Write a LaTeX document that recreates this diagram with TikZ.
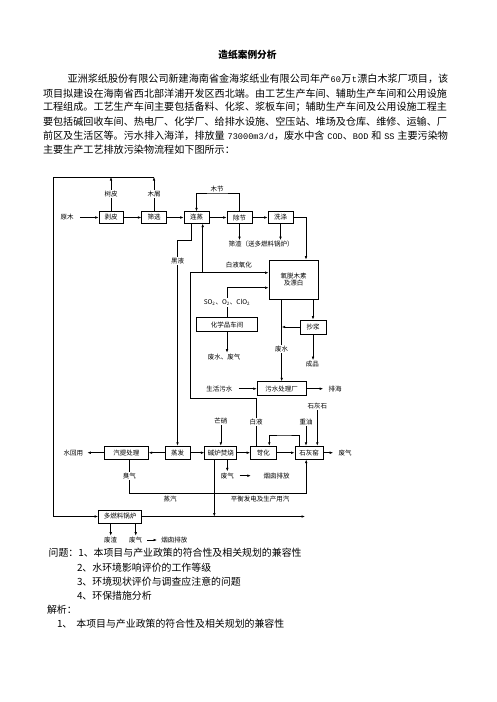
\documentclass[tikz,border=0pt]{standalone}
\usepackage{fontspec}
\setmainfont{Noto Sans CJK SC}
\newfontfamily\monolat[Scale=0.85]{Liberation Mono}
\usetikzlibrary{positioning,arrows.meta,calc}

\begin{document}
\begin{tikzpicture}[x=1pt,y=-1pt,>={Latex[length=3.5pt,width=2.6pt]},
  font=\fontsize{6.5}{7.5}\selectfont,line width=0.6pt,
  pbox/.style={draw,line width=0.8pt,minimum width=#1,minimum height=13,inner sep=1pt},
  lbl/.style={inner sep=1pt},
  onl/.style={fill=white,inner sep=1pt},
  para/.style={anchor=west,inner sep=0pt,font=\fontsize{10.1}{12}\selectfont},
  ask/.style={anchor=west,inner sep=0pt,font=\fontsize{9.9}{12}\selectfont}]
  \useasboundingbox (0,0) rectangle (496,702);

  \node[font=\bfseries\fontsize{9.7}{11}\selectfont] (title) at (247.5,55) {造纸案例分析};
  \node[para] (p1) at (67.3,79) {\makebox[380.7pt][s]{亚洲浆纸股份有限公司新建海南省金海浆纸业有限公司年产\hfil{\monolat 60}\hfil 万\hfil{\monolat t}\hfil 漂白木浆厂项目，该}};
  \node[para] (p2) at (42.7,93.2) {项目拟建设在海南省西北部洋浦开发区西北端。由工艺生产车间、辅助生产车间和公用设施};
  \node[para] (p3) at (42.7,107.4) {工程组成。工艺生产车间主要包括备料、化浆、浆板车间；辅助生产车间及公用设施工程主};
  \node[para] (p4) at (42.7,121.6) {要包括碱回收车间、热电厂、化学厂、给排水设施、空压站、堆场及仓库、维修、运输、厂};
  \node[para] (p5) at (42.7,135.8) {\makebox[405pt][s]{前区及生活区等。污水排入海洋，排放量\hfil{\monolat 73000m3/d}，废水中含\hfil{\monolat COD}、{\monolat BOD}\hfil 和\hfil{\monolat SS}\hfil 主要污染物}};
  \node[para] (p6) at (42.7,150) {主要生产工艺排放污染物流程如下图所示：};

  \node[lbl] (yuanmu) at (67,217.5) {原木};
  \node[pbox=24,minimum height=11.5] (bopi) at (111,217.5) {剥皮};
  \node[pbox=24.5,minimum height=11.5] (shaixuan) at (154,217.5) {筛选};
  \node[pbox=25,minimum height=11.5] (lianzheng) at (196.5,217.5) {连蒸};
  \node[pbox=25,minimum height=11.5] (chujie) at (239.5,217.5) {除节};
  \node[pbox=25,minimum height=11.5] (xidi) at (280.5,217.5) {洗涤};
  \node[lbl] (shaizha) at (261,244.5) {筛渣（送多燃料锅炉）};
  \node[pbox=49,minimum height=39,align=center] (yangtuo) at (293.5,279.5) {氧脱木素\\及漂白};
  \node[pbox=61,minimum height=14] (huaxue) at (227,324.7) {化学品车间};
  \node[lbl] (feishui) at (224,357) {废水、废气};
  \node[pbox=26,minimum height=14] (chaojiang) at (313,327) {抄浆};
  \node[lbl] (chengpin) at (312.3,364.5) {成品};
  \node[pbox=49,minimum height=14] (wushui) at (281.7,388.7) {污水处理厂};
  \node[lbl] (shenghuo) at (219.3,388.7) {生活污水};
  \node[lbl] (paihai) at (335,388.7) {排海};

  \node[lbl] (huiyong) at (73.3,452.7) {水回用};
  \node[pbox=44] (qiti) at (126.3,452.7) {汽提处理};
  \node[pbox=25] (zhengfa) at (177.5,452.7) {蒸发};
  \node[pbox=32] (jianlu) at (220.8,452.7) {碱炉焚烧};
  \node[pbox=25.5] (kehua) at (263.3,452.7) {苛化};
  \node[pbox=28.5] (shihuiyao) at (309.2,452.7) {石灰窑};
  \node[lbl] (feiqiY) at (345,452.7) {废气};
  \node[lbl] (mangxiao) at (220.8,420.7) {芒硝};
  \node[lbl] (zhongyou) at (306,421.7) {重油};
  \node[lbl] (shihuishi) at (317.3,405.7) {石灰石};
  \node[lbl] (feiqiJ) at (227.3,475.7) {废气};
  \node[lbl] (yancongJ) at (276.7,475.7) {烟囱排放};
  \node[lbl] (zhengqi) at (170,499.5) {蒸汽};
  \node[lbl] (pingheng) at (260,499.5) {平衡发电及生产用汽};
  \node[pbox=43] (boiler) at (120,516.5) {多燃料锅炉};
  \node[lbl] (feizha) at (110.7,540) {废渣};
  \node[lbl] (feiqiB) at (135.7,540) {废气};
  \node[lbl] (yancongB) at (174.3,540) {烟囱排放};

  \coordinate (topL) at (53,177);
  \coordinate (mujie) at (217,193);
  \coordinate (byA) at (256,398);
  \coordinate (byB) at (190.7,398);
  \coordinate (byC) at (190.7,272.7);
  \coordinate (byD) at (202.7,272.7);
  \coordinate (hyA) at (191.7,240);
  \coordinate (loopT) at (284,435);
  \coordinate (cqA) at (129.3,493.3);
  \coordinate (jlB) at ($(jianlu.south)+(-6.5,0)$);
  \coordinate (steamEnd) at (305,516.5);

  \draw[->,shorten <=5pt] (yuanmu) -- (bopi);
  \draw[->] (bopi) -- (shaixuan);
  \draw[->] (shaixuan) -- (lianzheng);
  \draw[->] (lianzheng) -- (chujie);
  \draw[->] (chujie) -- (xidi);
  \draw[->] (bopi) -- node[onl] (lShupi) {树皮} (bopi |- topL);
  \draw[->] (shaixuan) -- node[onl] (lMuxie) {木屑} (shaixuan |- topL);
  \draw[->] (shaixuan |- topL) -- (topL) |- (boiler);
  \draw[->] (chujie) |- (mujie) -| (lianzheng);
  \node[lbl,above] (lMujie) at (mujie) {木节};
  \draw[->] (chujie) -- (chujie |- shaizha.north);
  \draw[->] (xidi) -- (xidi |- shaizha.north);
  \draw[->] (xidi) -| ($(yangtuo.north)+(12.5,0)$);
  \draw[->] (kehua.north -| byA) -- node[onl] (lBaiye) {白液} (byA) -- (byB) -- (byC)
    -- node[above=1.5pt,pos=0.62] (lBaiyeYh) {白液氧化} (byC -| yangtuo.west);
  \draw[->] (byD) -- (byD |- lianzheng.south);
  \draw[->] ($(lianzheng.south)+(-4.8,0)$) -- (hyA) -| node[onl,pos=0.55] (lHeiye) {黑液} (zhengfa);
  \draw[->] (huaxue) |- node[onl,pos=0.25] (lSo) {SO\textsubscript{2}、O\textsubscript{2}、ClO\textsubscript{2}} ($(yangtuo.west)+(0,8.2)$);
  \draw[->] (huaxue) -- (huaxue |- feishui.north);
  \draw[->] (yangtuo.south -| wushui) -- node[onl,pos=0.6] (lFeishui) {废水} (wushui);
  \draw[->] (yangtuo.south -| chaojiang) -- (chaojiang);
  \draw[->] (chaojiang) -- (chaojiang -| wushui);
  \draw[->] (chaojiang) -- (chaojiang |- chengpin.north);
  \draw[->,shorten <=5pt] (shenghuo) -- (wushui);
  \draw[->,shorten >=4pt] (wushui) -- (paihai);

  \draw[->,shorten >=3pt] (qiti) -- (huiyong);
  \draw[->] (zhengfa) -- (qiti);
  \draw[->] (zhengfa) -- (jianlu);
  \draw[->] (jianlu) -- (kehua);
  \draw[->] (kehua) -- (shihuiyao);
  \draw[->,shorten >=4pt] (shihuiyao) -- (feiqiY);
  \draw[->] (mangxiao) -- (jianlu);
  \draw[->] (zhongyou) -- (zhongyou |- shihuiyao.north);
  \draw[->] (shihuishi) -- (shihuishi |- shihuiyao.north);
  \draw[->] ($(shihuiyao.north)+(-9.9,0)$) |- (loopT) -| ($(kehua.north)+(6,0)$);
  \draw[->] (feiqiJ |- jianlu.south) -- (feiqiJ);
  \draw[->,shorten <=4.5pt,shorten >=11.5pt] (feiqiJ) -- (yancongJ);
  \draw[->] ($(qiti.south)+(3,0)$) -- node[onl] (lChouqi) {臭气} (cqA) -| ($(shihuiyao.south)+(-3,0)$);
  \draw[->] (jlB) -- (jlB |- steamEnd);
  \draw[->] (boiler) -- (steamEnd);
  \draw[->] (boiler.south -| feizha) -- (feizha);
  \draw[->] (boiler.south -| feiqiB) -- (feiqiB);
  \draw[->,shorten <=3.5pt,shorten >=3pt] (feiqiB) -- (yancongB);

  \node[ask] (q1) at (48.3,553) {问题：1、本项目与产业政策的符合性及相关规划的兼容性};
  \node[ask] (q2) at (76.7,568) {2、水环境影响评价的工作等级};
  \node[ask] (q3) at (76.7,582) {3、环境现状评价与调查应注意的问题};
  \node[ask] (q4) at (76.7,596) {4、环保措施分析};
  \node[ask] (jx) at (46.7,610) {解析：};
  \node[ask] (a1) at (56.7,624) {1、\hspace{4pt}本项目与产业政策的符合性及相关规划的兼容性};
\end{tikzpicture}
\end{document}
